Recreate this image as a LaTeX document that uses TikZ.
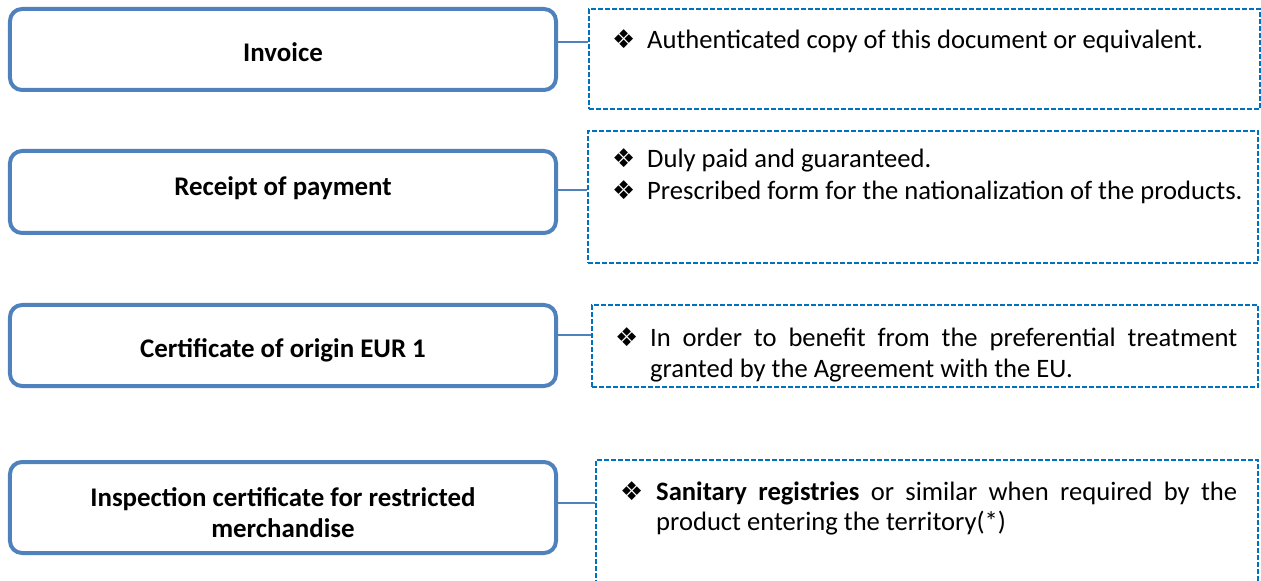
\documentclass[tikz,border=0pt]{standalone}
\usepackage{fontspec}
\setmainfont{Carlito}
\newfontfamily\dejavu{DejaVu Sans}
\usepackage{array}
\definecolor{boxblue}{HTML}{4F81BD}
\definecolor{dashblue}{HTML}{0070C0}
\newcommand{\bul}{{\dejavu\fontsize{26}{26}\selectfont ❖}}
\begin{document}
\begin{tikzpicture}[x=1bp,y=-1bp,
  mainbox/.style={draw=boxblue, line width=4bp, rounded corners=12bp, minimum width=546bp, inner sep=0pt},
  boxlabel/.style={inner sep=0pt, align=center, font=\fontsize{27}{31}\selectfont\bfseries},
  notebox/.style={draw=dashblue, line width=1.6bp, dash pattern=on 5bp off 2bp, inner sep=0pt},
  link/.style={draw=boxblue, line width=1.5bp},
  notetext/.style={inner sep=0pt, anchor=base west, font=\fontsize{26.7}{31}\selectfont}]
\useasboundingbox (0,0) rectangle (1261,581);
\clip (0,0) rectangle (1261,581);
\fill[white] (0,0) rectangle (1261,581);

% left boxes
\node[mainbox, minimum height=81bp] (b1) at (283,49.5) {};
\node[mainbox, minimum height=82bp] (b2) at (283,192) {};
\node[mainbox, minimum height=81bp] (b3) at (283,345.5) {};
\node[mainbox, minimum height=91bp] (b4) at (283,507.5) {};
\node[boxlabel, yshift=-3bp] (l1) at (b1.center) {Invoice};
\node[boxlabel, yshift=4bp] (l2) at (b2.center) {Receipt of payment};
\node[boxlabel, yshift=-5bp] (l3) at (b3.center) {Certificate of origin EUR 1};
\node[boxlabel, yshift=-5bp] (l4) at (b4.center) {Inspection certificate for restricted\\merchandise};

% dashed boxes
\node[notebox, minimum width=671bp, minimum height=100bp] (d1) at (924.5,59) {};
\node[notebox, minimum width=670bp, minimum height=132bp] (d2) at (923,197) {};
\node[notebox, minimum width=666bp, minimum height=82bp] (d3) at (925,346) {};
\node[notebox, minimum width=662bp, minimum height=180bp] (d4) at (927,550) {};

% connectors
\draw[link] (b1.east |- 0,42) -- (d1.west |- 0,42);
\draw[link] (b2.east |- 0,190) -- (d2.west |- 0,190);
\draw[link] (b3.east |- 0,335) -- (d3.west |- 0,335);
\draw[link] (b4.east |- 0,503) -- (d4.west |- 0,503);

% texts
\node[notetext] (t1) at (612,49) {\begin{tabular}[t]{@{}p{35bp}@{}p{612bp}@{}}\bul & Authenticated copy of this document or equivalent.\end{tabular}};
\node[notetext] (t2) at (612,168) {\begin{tabular}[t]{@{}p{35bp}@{}p{612bp}@{}}\bul & Duly paid and guaranteed.\\[1bp] \bul & Prescribed form for the nationalization of the products.\end{tabular}};
\node[notetext] (t3) at (615,347) {\begin{tabular}[t]{@{}p{35bp}@{}p{587bp}@{}}\bul & In order to benefit from the preferential treatment\linebreak granted by the Agreement with the EU.\end{tabular}};
\node[notetext] (t4) at (620,500) {\begin{tabular}[t]{@{}p{36bp}@{}p{581bp}@{}}\bul & \textbf{Sanitary registries} or similar when required by the\linebreak product entering the territory(*)\end{tabular}};
\end{tikzpicture}
\end{document}
